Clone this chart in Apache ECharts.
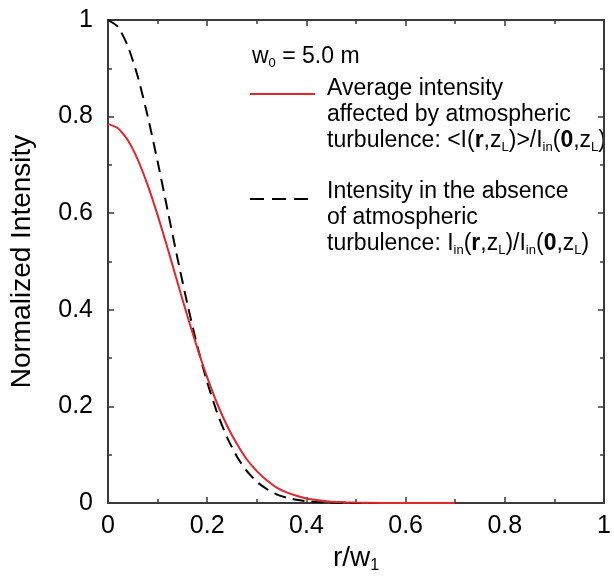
<!DOCTYPE html>
<html>
<head>
<meta charset="utf-8">
<script src="https://cdn.jsdelivr.net/npm/echarts@6/dist/echarts.min.js"></script>
<style>
  html, body { margin: 0; padding: 0; background: #fff; }
  #chart { width: 614px; height: 583px; }
</style>
</head>
<body>
<div id="chart"></div>
<script>
// Radial coordinate normalised by the beam radius w1
const rRatio = [0, 0.02, 0.04, 0.06, 0.08, 0.10, 0.12, 0.14, 0.16, 0.18, 0.20, 0.22, 0.24, 0.26, 0.28,
  0.30, 0.32, 0.34, 0.36, 0.38, 0.40, 0.42, 0.44, 0.46, 0.48, 0.50, 0.55, 0.60, 0.65, 0.70];

// Average intensity with atmospheric turbulence, <I(r,zL)>/Iin(0,zL)
const avgIntensity = [0.785, 0.776, 0.751, 0.711, 0.658, 0.596, 0.528, 0.457, 0.387, 0.321, 0.260,
  0.206, 0.160, 0.122, 0.090, 0.066, 0.047, 0.032, 0.022, 0.015, 0.0095, 0.006, 0.0038, 0.0023,
  0.0014, 0.0008, 0.0002, 0.00004, 0, 0];

// Intensity without turbulence, Iin(r,zL)/Iin(0,zL)
const freeIntensity = [1, 0.986, 0.946, 0.883, 0.801, 0.707, 0.607, 0.507, 0.412, 0.325, 0.250,
  0.187, 0.136, 0.096, 0.066, 0.044, 0.029, 0.018, 0.011, 0.0067, 0.0039, 0.0022, 0.0012, 0.00065,
  0.00034, 0.00017, 0.00003, 0, 0, 0];

const FONT = 'Liberation Sans, Arial, sans-serif';
const AXIS_COLOR = '#3a3a3a';
const RED = '#e3262b';

const pairs = (ys) => rRatio.map((x, i) => [x, ys[i]]);

// Rich-text styles shared by the annotation block
const rich = {
  a: { fontFamily: FONT, fontSize: 23, color: '#000', lineHeight: 26 },
  b: { fontFamily: FONT, fontSize: 23, color: '#000', fontWeight: 'bold', lineHeight: 26 },
  s: { fontFamily: FONT, fontSize: 13, color: '#000', lineHeight: 8, verticalAlign: 'bottom' }
};

const noteLines = [
  { y: 58, x: 252, text: '{a|w}{s|0}{a| = 5.0 m}' },
  { y: 90, x: 327, text: '{a|Average intensity}' },
  { y: 116, x: 327, text: '{a|affected by atmospheric}' },
  { y: 142, x: 327, text: '{a|turbulence: <I(}{b|r}{a|,z}{s|L}{a|)>/I}{s|in}{a|(}{b|0}{a|,z}{s|L}{a|)}' },
  { y: 193, x: 327, text: '{a|Intensity in the absence}' },
  { y: 219, x: 327, text: '{a|of atmospheric}' },
  { y: 245, x: 327, text: '{a|turbulence: I}{s|in}{a|(}{b|r}{a|,z}{s|L}{a|)/I}{s|in}{a|(}{b|0}{a|,z}{s|L}{a|)}' }
];

const graphics = noteLines.map(l => ({
  type: 'text',
  left: l.x,
  top: l.y - 13,
  style: { text: l.text, rich: rich, font: '23px ' + FONT }
}));
graphics.push({
  type: 'line',
  shape: { x1: 250, y1: 94, x2: 315, y2: 94 },
  style: { stroke: RED, lineWidth: 2 }
});
graphics.push({
  type: 'line',
  shape: { x1: 250, y1: 199, x2: 315, y2: 199 },
  style: { stroke: '#000', lineWidth: 2, lineDash: [14, 8] }
});

const tickLabel = v => (v === 0 ? '0' : v === 1 ? '1' : v.toFixed(1));

const baseAxis = {
  type: 'value',
  min: 0,
  max: 1,
  interval: 0.2,
  axisLine: { show: true, onZero: false, lineStyle: { color: AXIS_COLOR, width: 2 } },
  axisTick: { show: true, inside: true, length: 6, lineStyle: { color: AXIS_COLOR, width: 1.5 } },
  minorTick: { show: true, splitNumber: 2, length: 4, lineStyle: { color: AXIS_COLOR, width: 1.5 } },
  splitLine: { show: false },
  minorSplitLine: { show: false }
};

const option = {
  animation: false,
  backgroundColor: '#fff',
  grid: { left: 107, top: 20, width: 503, height: 483, containLabel: false },
  xAxis: [
    Object.assign({}, baseAxis, {
      position: 'bottom',
      name: '{a|r/w}{s|1}',
      nameLocation: 'middle',
      nameGap: 38,
      nameTextStyle: {
        rich: {
          a: { fontFamily: FONT, fontSize: 28, color: '#000', lineHeight: 32 },
          s: { fontFamily: FONT, fontSize: 16, color: '#000', lineHeight: 8, verticalAlign: 'bottom' }
        }
      },
      axisLabel: { fontFamily: FONT, fontSize: 25, color: '#000', margin: 11, formatter: tickLabel }
    }),
    Object.assign({}, baseAxis, { position: 'top', axisLabel: { show: false } })
  ],
  yAxis: [
    Object.assign({}, baseAxis, {
      position: 'left',
      name: 'Normalized Intensity',
      nameLocation: 'middle',
      nameGap: 72,
      nameTextStyle: { fontFamily: FONT, fontSize: 28, color: '#000' },
      axisLabel: { fontFamily: FONT, fontSize: 25, color: '#000', margin: 15, formatter: tickLabel }
    }),
    Object.assign({}, baseAxis, { position: 'right', axisLabel: { show: false } })
  ],
  series: [
    {
      name: 'Average intensity',
      type: 'line',
      data: pairs(avgIntensity),
      showSymbol: false,
      smooth: 0.2,
      lineStyle: { color: RED, width: 2 },
      z: 3
    },
    {
      name: 'Intensity without turbulence',
      type: 'line',
      data: pairs(freeIntensity),
      showSymbol: false,
      smooth: 0.2,
      lineStyle: { color: '#000', width: 2, type: [12, 7] },
      z: 2
    }
  ],
  graphic: graphics
};

const chart = echarts.init(document.getElementById('chart'), null, { renderer: 'canvas' });
chart.setOption(option);
</script>
</body>
</html>
